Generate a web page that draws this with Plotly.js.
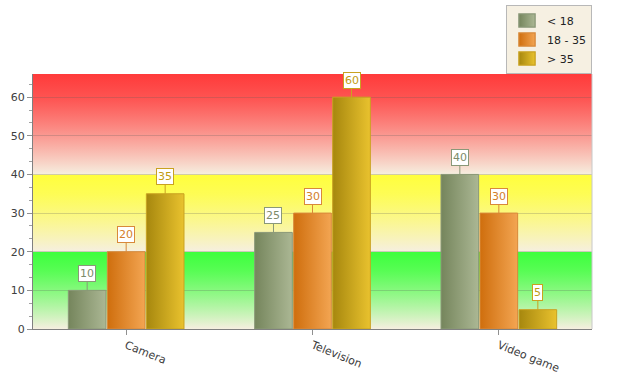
<!DOCTYPE html>
<html>
<head>
<meta charset="utf-8">
<script src="https://cdn.plot.ly/plotly-3.0.1.min.js"></script>
<style>html,body{margin:0;padding:0;background:#fff;}#chart{width:617px;height:375px;}</style>
</head>
<body>
<div id="chart"></div>
<script>
var categories = ['Camera', 'Television', 'Video game'];
var seriesNames = ['< 18', '18 - 35', '> 35'];
var valuesUnder18 = [10, 25, 40];
var values18to35 = [20, 30, 30];
var valuesOver35 = [35, 60, 5];
var bandLimits = [0, 20, 40, 66];

var seriesValues = [valuesUnder18, values18to35, valuesOver35];
var gradLeft = ['#75855c', '#cf6e0d', '#a6870e'];
var gradRight = ['#abb794', '#f3a552', '#e9c22e'];
var lineCol = ['#8a9878', '#d8893a', '#c9a220'];
var labelCol = ['#7d8b6a', '#d47f2a', '#c29c12'];
var bandTop = ['#3cff3c', '#ffff3c', '#ff3a3a'];
var bandBottom = '#f6efe0';

var bargap = 0.372;
var slot = (1 - bargap) / 3;
var FONT = 'DejaVu Sans, Verdana, sans-serif';

var traces = seriesValues.map(function (vals, j) {
  return {
    type: 'bar', name: seriesNames[j],
    x: categories.map(function (c, i) { return i; }),
    y: vals,
    marker: { color: gradRight[j], line: { color: lineCol[j], width: 1 } },
    hoverinfo: 'none'
  };
});

var annotations = [];
seriesValues.forEach(function (vals, j) {
  vals.forEach(function (v, i) {
    annotations.push({
      x: i + (j - 1) * slot, y: v, xref: 'x', yref: 'y',
      text: String(v), showarrow: true, arrowhead: 0, arrowwidth: 1,
      arrowcolor: lineCol[j], ax: 0, ay: -17, standoff: 0,
      bgcolor: '#ffffff', bordercolor: lineCol[j], borderwidth: 1, borderpad: 1,
      font: { family: FONT, size: 11, color: labelCol[j] }
    });
  });
});

function bandSvg(top) {
  var s = '<svg xmlns="http://www.w3.org/2000/svg" viewBox="0 0 10 10" preserveAspectRatio="none">' +
    '<defs><linearGradient id="g" x1="0" y1="0" x2="0" y2="1">' +
    '<stop offset="0" stop-color="' + top + '"/>' +
    '<stop offset="0.25" stop-color="' + top + '" stop-opacity="0.85"/>' +
    '<stop offset="1" stop-color="' + bandBottom + '"/>' +
    '</linearGradient></defs><rect x="0" y="0" width="10" height="10" fill="url(#g)"/></svg>';
  return 'data:image/svg+xml;charset=utf-8,' + encodeURIComponent(s);
}

var images = [];
for (var b = 0; b < 3; b++) {
  images.push({
    source: bandSvg(bandTop[b]), xref: 'paper', yref: 'y',
    x: 0, y: bandLimits[b + 1], sizex: 1, sizey: bandLimits[b + 1] - bandLimits[b],
    xanchor: 'left', yanchor: 'top', sizing: 'stretch', layer: 'below'
  });
}

var layout = {
  width: 617, height: 375,
  margin: { l: 33, r: 25, t: 74, b: 46, pad: 0, autoexpand: false },
  paper_bgcolor: '#ffffff', plot_bgcolor: bandBottom,
  font: { family: FONT, size: 10, color: '#333333' },
  barmode: 'group', bargap: bargap, bargroupgap: 0.035,
  showlegend: true,
  legend: {
    xref: 'container', yref: 'container',
    x: 592 / 617, xanchor: 'right', y: 1 - 5 / 375, yanchor: 'top',
    bgcolor: '#f6f0e2', bordercolor: '#b8b8b8', borderwidth: 1,
    font: { family: FONT, size: 11, color: '#222222' },
    tracegroupgap: 0, itemwidth: 30
  },
  xaxis: {
    type: 'linear', range: [-0.5, 2.5],
    tickmode: 'array', tickvals: [0, 1, 2], ticktext: categories,
    tickangle: 22, ticks: 'outside', ticklen: 5, tickcolor: '#909090',
    showgrid: false, zeroline: false,
    showline: true, linecolor: '#808080', linewidth: 1,
    tickfont: { family: FONT, size: 11, color: '#404040' }
  },
  yaxis: {
    range: [0, 66], dtick: 10, ticks: 'outside', ticklen: 5, tickcolor: '#909090',
    showgrid: true, gridcolor: 'rgba(90,90,90,0.25)', gridwidth: 1,
    zeroline: false, showline: true, linecolor: '#808080', linewidth: 1,
    tickfont: { family: FONT, size: 11, color: '#404040' },
    minor: { dtick: 10 / 3, ticks: 'outside', ticklen: 3, tickcolor: '#a0a0a0', showgrid: false }
  },
  images: images,
  annotations: annotations,
  shapes: [{ type: 'line', xref: 'paper', yref: 'paper', x0: 1, x1: 1, y0: 0, y1: 1,
    line: { color: '#c8c8c8', width: 1 }, layer: 'above' }]
};

function applyGradients(gd) {
  var svg = gd.querySelector('svg.main-svg');
  var ns = 'http://www.w3.org/2000/svg';
  var defs = document.createElementNS(ns, 'defs');
  for (var j = 0; j < 3; j++) {
    var lg = document.createElementNS(ns, 'linearGradient');
    lg.setAttribute('id', 'bargrad' + j);
    lg.setAttribute('x1', '0'); lg.setAttribute('y1', '0');
    lg.setAttribute('x2', '1'); lg.setAttribute('y2', '0');
    [[0, gradLeft[j]], [1, gradRight[j]]].forEach(function (st) {
      var s = document.createElementNS(ns, 'stop');
      s.setAttribute('offset', st[0]); s.setAttribute('stop-color', st[1]);
      lg.appendChild(s);
    });
    defs.appendChild(lg);
  }
  svg.insertBefore(defs, svg.firstChild);
  var barTraces = gd.querySelectorAll('.barlayer .trace');
  barTraces.forEach(function (t, j) {
    t.querySelectorAll('path').forEach(function (p) { p.style.fill = 'url(#bargrad' + j + ')'; });
  });
  var legTraces = gd.querySelectorAll('.legend .traces');
  legTraces.forEach(function (t, j) {
    t.querySelectorAll('.legendpoints path').forEach(function (p) {
      p.style.fill = 'url(#bargrad' + j + ')';
      var tr = p.getAttribute('transform') || '';
      p.setAttribute('transform', tr + ' scale(1.35,1.1)');
    });
  });
}

Plotly.newPlot('chart', traces, layout, { staticPlot: true, displayModeBar: false })
  .then(applyGradients);
</script>
</body>
</html>
